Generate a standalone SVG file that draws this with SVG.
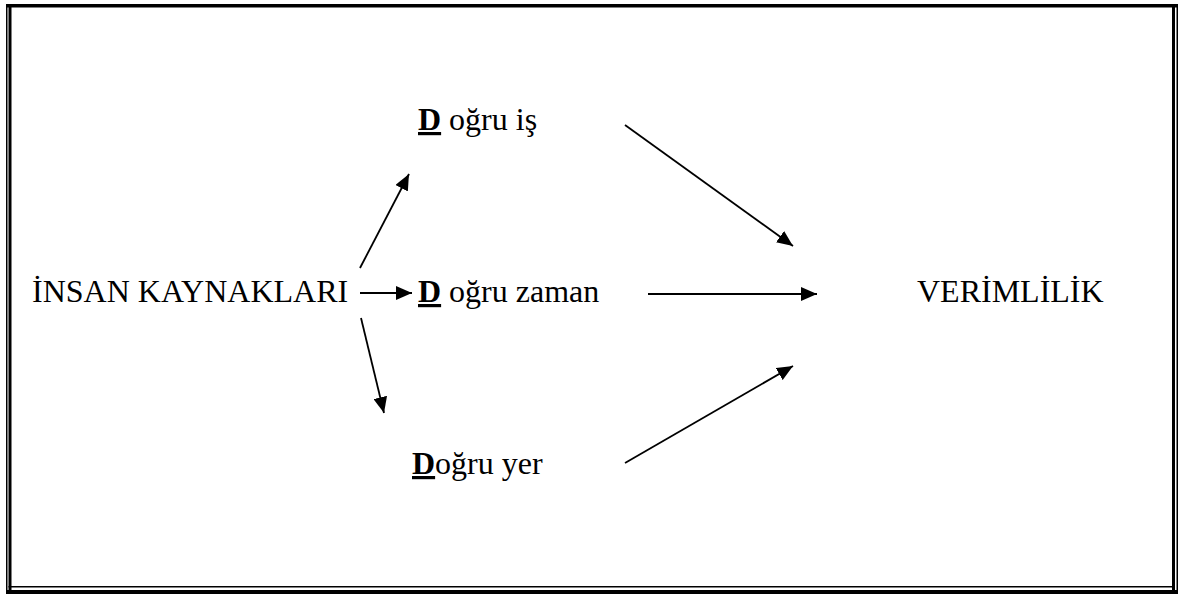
<svg xmlns="http://www.w3.org/2000/svg" width="1181" height="594" viewBox="0 0 1181 594">
<style>
text{font-family:"Liberation Serif","DejaVu Serif",serif;font-size:32px;fill:#000}
.b{font-weight:bold;text-decoration:underline}
.c{stroke:#000;stroke-width:1.8;fill:none;marker-end:url(#ah)}
</style>
<defs>
<marker id="ah" markerUnits="userSpaceOnUse" markerWidth="18" markerHeight="14" refX="16" refY="7" orient="auto">
<path d="M0,0 L16,7 L0,14 Z" fill="#000"/>
</marker>
</defs>
<rect width="1181" height="594" fill="#fff"/>
<g id="frame" fill="#000">
<rect x="6" y="4" width="1172" height="3.5"/>
<rect x="6" y="4" width="1.5" height="590"/>
<rect x="8.5" y="4" width="3" height="590"/>
<rect x="1172" y="4" width="3" height="590"/>
<rect x="1176.5" y="4" width="1.5" height="590"/>
<rect x="8.5" y="586" width="1166" height="1.5"/>
<rect x="6" y="590" width="1172" height="4"/>
</g>
<g id="connectors">
<line class="c" x1="360" y1="268" x2="409" y2="174"/>
<line class="c" x1="360" y1="293" x2="412" y2="293"/>
<line class="c" x1="361" y1="318" x2="384" y2="413"/>
<line class="c" x1="625" y1="125" x2="793" y2="246"/>
<line class="c" x1="648" y1="294" x2="817" y2="294"/>
<line class="c" x1="625" y1="463" x2="793" y2="366"/>
</g>
<g id="n-insan"><text x="32" y="302">İNSAN KAYNAKLARI</text></g>
<g id="n-is"><text x="418" y="130"><tspan class="b">D</tspan> oğru iş</text></g>
<g id="n-zaman"><text x="418" y="302"><tspan class="b">D</tspan> oğru zaman</text></g>
<g id="n-yer"><text x="412" y="474"><tspan class="b">D</tspan>oğru yer</text></g>
<g id="n-verim"><text x="917" y="302">VERİMLİLİK</text></g>
</svg>
